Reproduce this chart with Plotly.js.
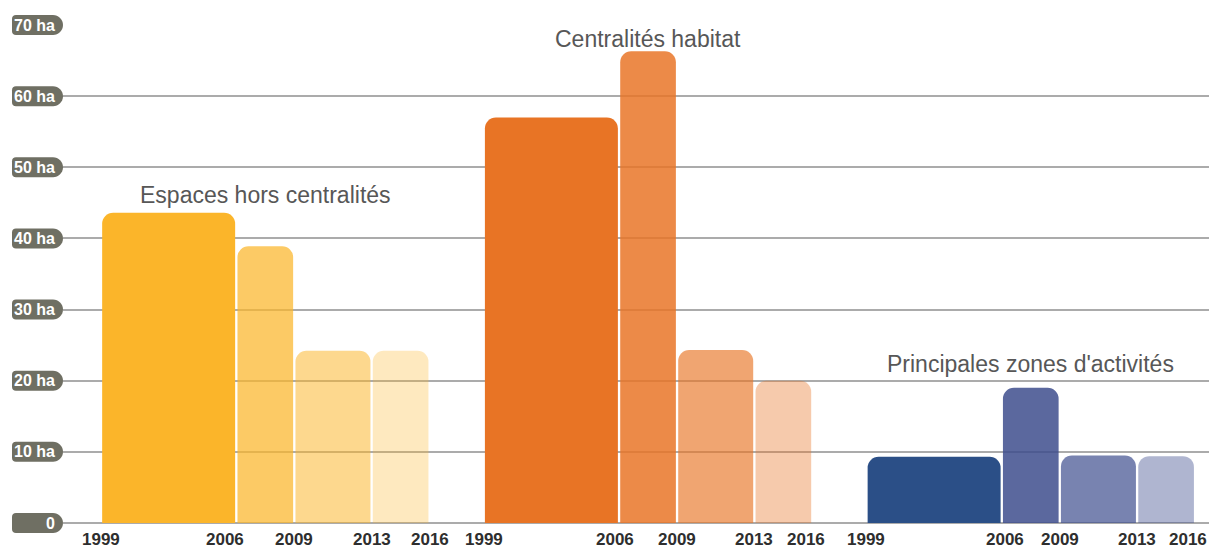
<!DOCTYPE html>
<html>
<head>
<meta charset="utf-8">
<script src="https://cdn.plot.ly/plotly-3.0.1.min.js"></script>
<style>
  html, body { margin: 0; padding: 0; background: #ffffff; }
  #chart { width: 1209px; height: 550px; }
</style>
</head>
<body>
<div id="chart"></div>
<script>
// ---- data ----
const groupNames = ['Espaces hors centralités', 'Centralités habitat', "Principales zones d'activités"];
const periodStarts = [1999, 2006, 2009, 2013];
const periodEnds = [2006, 2009, 2013, 2016];
const yearLabels = ['1999', '2006', '2009', '2013', '2016'];
const espacesHorsCentralites = [43.6, 38.9, 24.2, 24.2];
const centralitesHabitat = [57.0, 66.3, 24.3, 20.0];
const zonesActivites = [9.3, 19.0, 9.5, 9.4];
const yTickValues = [0, 10, 20, 30, 40, 50, 60, 70];
const yTickLabels = ['0', '10 ha', '20 ha', '30 ha', '40 ha', '50 ha', '60 ha', '70 ha'];

// ---- style ----
const groupValues = [espacesHorsCentralites, centralitesHabitat, zonesActivites];
const groupColors = [
  ['rgb(251,181,42)', 'rgba(251,181,42,0.72)', 'rgba(251,181,42,0.53)', 'rgba(251,181,42,0.3)'],
  ['rgb(232,116,37)', 'rgba(232,116,37,0.84)', 'rgba(232,116,37,0.65)', 'rgba(232,116,37,0.38)'],
  ['rgb(43,79,135)', 'rgba(60,75,140,0.84)', 'rgba(60,75,140,0.69)', 'rgba(60,75,140,0.41)']
];
const groupStride = 19.8;
const barGap = 0.12;
const titleY = [46.1, 68.1, 22.4];
const labelShift = [[0, -11, 0, 0, 0], [0, -4, 0, 0, -6], [0, 3, 0, 0, -7]];
const yMax = 70;
const FONT = 'Liberation Sans, Arial, sans-serif';

const base = periodStarts[0];
const traces = [];
const annotations = [];
const shapes = [];

groupValues.forEach(function (vals, g) {
  const off = g * groupStride;
  const xs = [], ws = [];
  for (let i = 0; i < vals.length; i++) {
    const s = off + periodStarts[i] - base;
    const e = off + periodEnds[i] - base;
    xs.push((s + e) / 2);
    ws.push(e - s - barGap);
  }
  traces.push({
    type: 'bar',
    name: groupNames[g],
    x: xs,
    y: vals,
    width: ws,
    marker: { color: groupColors[g], cornerradius: 11, line: { width: 0 } },
    hoverinfo: 'y+name',
    showlegend: false
  });
  // group title
  annotations.push({
    xref: 'x', yref: 'y',
    x: off + (periodEnds[periodEnds.length - 1] - base) / 2,
    y: titleY[g],
    text: groupNames[g],
    showarrow: false,
    xanchor: 'center', yanchor: 'middle',
    font: { family: FONT, size: 23, color: '#575757' }
  });
  // year labels
  const bounds = [periodStarts[0]].concat(periodEnds);
  bounds.forEach(function (yr, k) {
    annotations.push({
      xref: 'x', yref: 'y',
      x: off + yr - base,
      y: 0,
      text: yearLabels[k],
      showarrow: false,
      xanchor: 'center', yanchor: 'middle',
      xshift: labelShift[g][k],
      yshift: -16,
      borderpad: 0,
      font: { family: FONT, size: 17, color: '#2e2e2e', weight: 'bold' }
    });
  });
});

// y tag labels (pill shapes + text)
const pillPath = 'M -47,-10 L -10,-10 C -4.5,-10 0,-5.5 0,0 C 0,5.5 -4.5,10 -10,10 L -47,10 C -49.5,10 -51,8.5 -51,6 L -51,-6 C -51,-8.5 -49.5,-10 -47,-10 Z';
yTickValues.forEach(function (v, i) {
  shapes.push({
    type: 'path',
    xref: 'paper', yref: 'paper',
    xsizemode: 'pixel', ysizemode: 'pixel',
    xanchor: 0, yanchor: v / yMax,
    path: pillPath,
    fillcolor: '#6f6f63',
    line: { width: 0 },
    layer: 'above'
  });
  annotations.push({
    xref: 'paper', yref: 'y',
    x: 0, y: v,
    text: yTickLabels[i],
    showarrow: false,
    xanchor: 'right', yanchor: 'middle',
    xshift: -7,
    borderpad: 0,
    font: { family: FONT, size: 16, color: '#ffffff', weight: 'bold' }
  });
});

const layout = {
  width: 1209,
  height: 550,
  margin: { l: 63, r: 0, t: 25, b: 27, pad: 0 },
  paper_bgcolor: '#ffffff',
  plot_bgcolor: '#ffffff',
  barmode: 'overlay',
  showlegend: false,
  xaxis: {
    range: [-1.966, 57.32],
    showgrid: false,
    zeroline: false,
    showticklabels: false,
    ticks: '',
    showline: false,
    fixedrange: true
  },
  yaxis: {
    range: [0, yMax],
    tickvals: yTickValues,
    showgrid: true,
    gridcolor: '#ababab',
    gridwidth: 2,
    zeroline: true,
    zerolinecolor: '#ababab',
    zerolinewidth: 2,
    showticklabels: false,
    ticks: '',
    showline: false,
    fixedrange: true
  },
  shapes: shapes,
  annotations: annotations
};

Plotly.newPlot('chart', traces, layout, { displayModeBar: false, staticPlot: true });
</script>
</body>
</html>
